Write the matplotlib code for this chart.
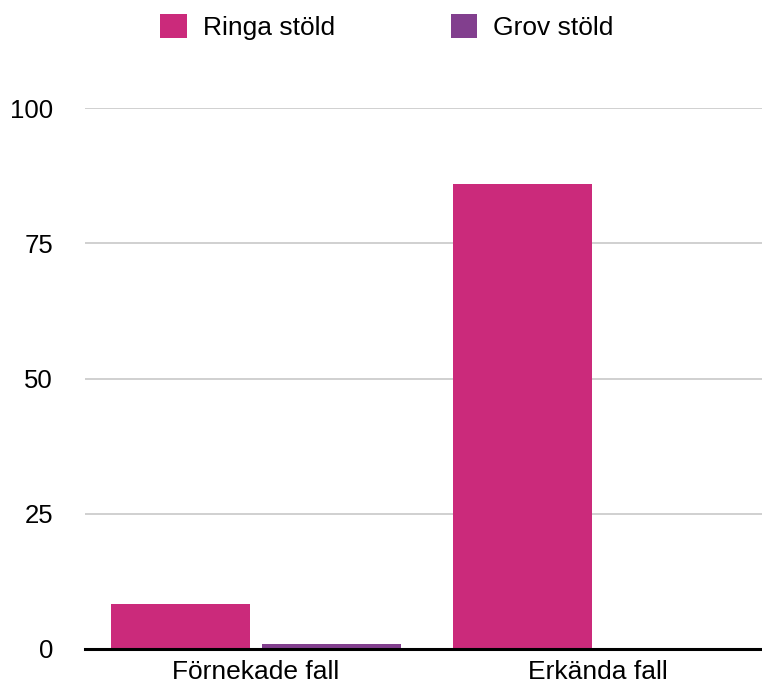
import numpy as np
import matplotlib.pyplot as plt

plt.rcParams['font.family'] = ['Liberation Sans', 'DejaVu Sans']

categories = ['Förnekade fall', 'Erkända fall']
ringa = [8.3, 86]
grov = [0.9, 0]
yticks = [0, 25, 50, 75, 100]

pink = '#cb2a7b'
purple = '#823f8e'

fig = plt.figure(figsize=(7.62, 6.88), dpi=100)
ax = fig.add_axes([85 / 762, 1 - 649 / 688, 684 / 762, 541 / 688])

x = np.arange(len(categories))
w = 0.406
ax.bar(x - 0.221, ringa, w, color=pink, label='Ringa stöld', zorder=3)
ax.bar(x + 0.221, grov, w, color=purple, label='Grov stöld', zorder=3)

ax.set_xlim(-0.5, 1.5)
ax.set_ylim(0, 100)
ax.set_yticks(yticks)
ax.set_xticks(x)
ax.set_xticklabels(categories)
ax.tick_params(axis='y', length=0, pad=23, labelsize=18.5)
ax.tick_params(axis='x', length=0, pad=8, labelsize=19)
ax.yaxis.grid(True, color='#c4c4c4', linewidth=1.1, zorder=0)
ax.set_axisbelow(True)

for s in ['top', 'right', 'left']:
    ax.spines[s].set_visible(False)
ax.spines['bottom'].set_linewidth(2.2)
ax.spines['bottom'].set_color('black')
ax.spines['bottom'].set_zorder(4)
ax.spines['bottom'].set_clip_on(False)

fig.legend(loc='center', bbox_to_anchor=(387 / 762, 1 - 27 / 688), ncol=2,
           frameon=False, fontsize=19, handlelength=1.0, handleheight=1.0,
           handletextpad=0.6, columnspacing=4.4, borderpad=0)

fig.savefig('out.png', dpi=100)
